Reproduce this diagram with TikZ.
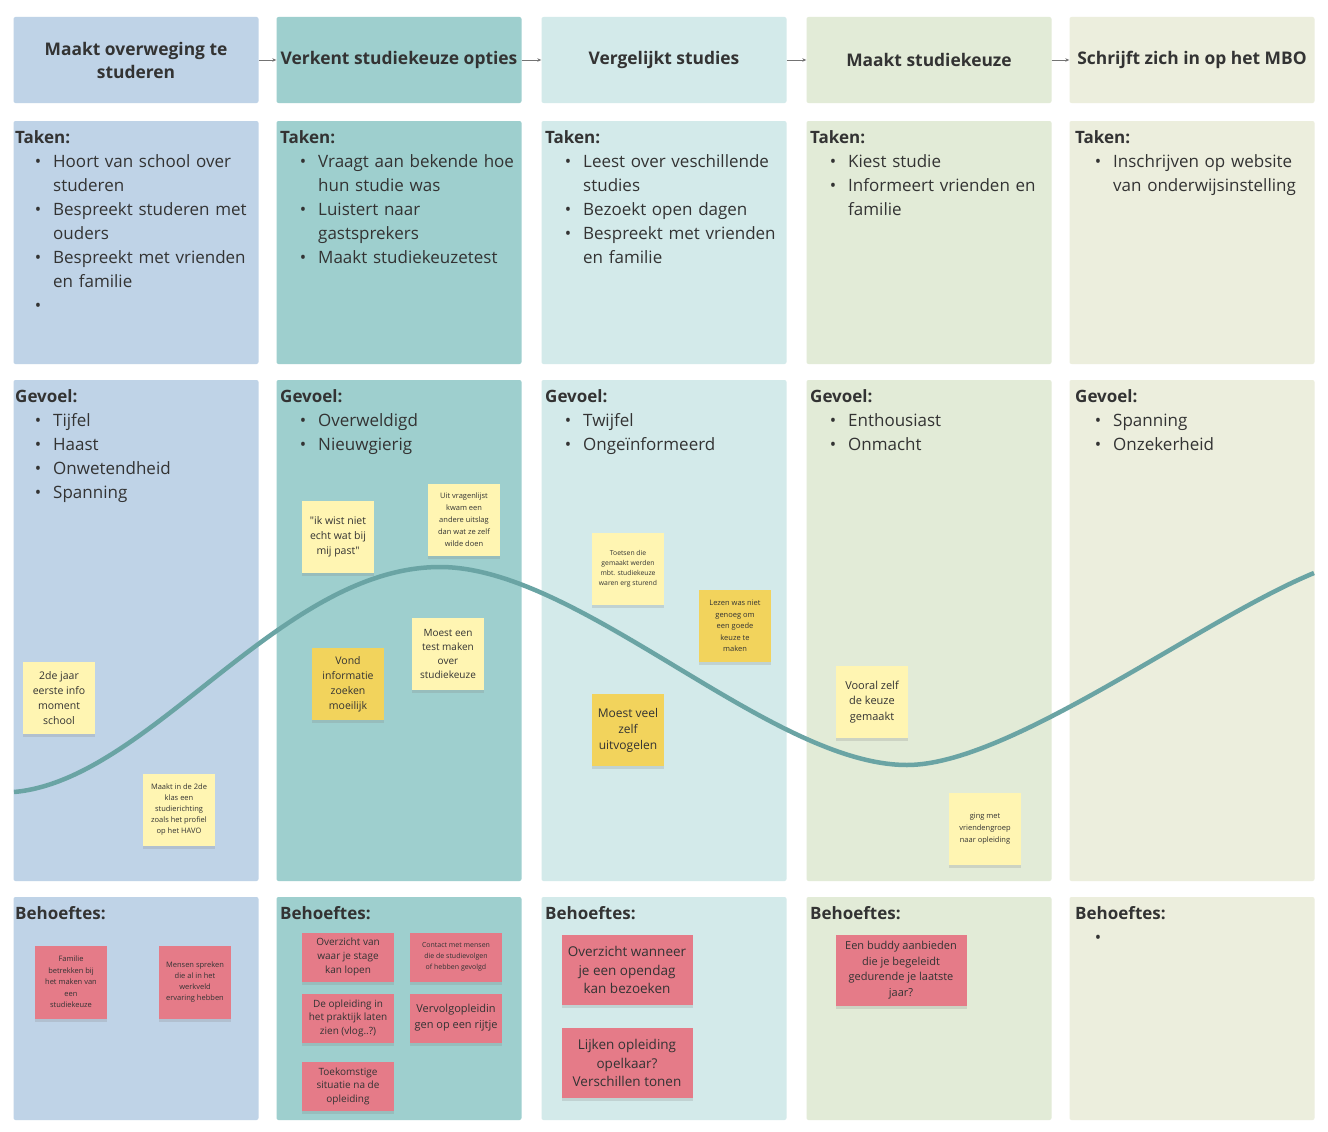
\documentclass[tikz,border=0pt]{standalone}
\usepackage{fontspec}
\setmainfont{Open Sans}
\usepackage{xcolor}
\usetikzlibrary{arrows.meta,shadows}
\definecolor{ink}{HTML}{333333}
\definecolor{laneA}{HTML}{BFD3E7}
\definecolor{laneB}{HTML}{9ECFCE}
\definecolor{laneC}{HTML}{D3EAEA}
\definecolor{laneD}{HTML}{E2EBD7}
\definecolor{laneE}{HTML}{ECEEDD}
\definecolor{moodline}{HTML}{6AA4A4}
\definecolor{paleyellow}{HTML}{FFF5B2}
\definecolor{deepyellow}{HTML}{F2D35C}
\definecolor{rosy}{HTML}{E57B88}
\newcommand{\notefont}[2]{\fontsize{#1}{#2}\selectfont}
\newcommand{\itm}[1]{\par{\leftskip=38pt\noindent\llap{\textbullet\hspace{12pt}}#1\par}}
\begin{document}
\begin{tikzpicture}[x=1pt,y=-1pt,>={Stealth[length=4pt,width=3.5pt]},
 stage/.style={minimum width=245pt,minimum height=86pt,rounded corners=2pt,align=center,inner sep=0pt,text=ink,font=\bfseries\notefont{17.4}{23}},
 lane/.style={minimum width=245pt,rounded corners=2pt,inner sep=0pt},
 list/.style={anchor=north west,text width=250pt,align=left,inner sep=0pt,text=ink,font=\notefont{17}{24}},
 flow/.style={->,draw=black!55,line width=.6pt},
 mood/.style={draw=moodline,line width=4.5pt},
 note/.style={align=center,inner sep=1pt,text=ink,drop shadow={shadow xshift=0pt,shadow yshift=-3pt,opacity=.22}},
 pale/.style={note,fill=paleyellow,minimum width=72pt,minimum height=72pt},
 deep/.style={note,fill=deepyellow,minimum width=72pt,minimum height=72pt},
 need/.style={note,fill=rosy}]
\fill[white] (0,0) rectangle (1328,1132);
\useasboundingbox (0,0) rectangle (1328,1132);
% phases
\node[stage,fill=laneA] (h1) at (136,60) {Maakt overweging te\\studeren};
\node[stage,fill=laneB] (h2) at (399,60) {Verkent studiekeuze opties};
\node[stage,fill=laneC] (h3) at (664,60) {Vergelijkt studies};
\node[stage,fill=laneD] (h4) at (929,60) {Maakt studiekeuze};
\node[stage,fill=laneE] (h5) at (1192,60) {Schrijft zich in op het MBO};
\draw[flow] (h1)--(h2);
\draw[flow] (h2)--(h3);
\draw[flow] (h3)--(h4);
\draw[flow] (h4)--(h5);
% lanes
\node[lane,fill=laneA,minimum height=243pt] (t1) at (136,242.5) {};
\node[lane,fill=laneB,minimum height=243pt] (t2) at (399,242.5) {};
\node[lane,fill=laneC,minimum height=243pt] (t3) at (664,242.5) {};
\node[lane,fill=laneD,minimum height=243pt] (t4) at (929,242.5) {};
\node[lane,fill=laneE,minimum height=243pt] (t5) at (1192,242.5) {};
\node[lane,fill=laneA,minimum height=501pt] (g1) at (136,630.5) {};
\node[lane,fill=laneB,minimum height=501pt] (g2) at (399,630.5) {};
\node[lane,fill=laneC,minimum height=501pt] (g3) at (664,630.5) {};
\node[lane,fill=laneD,minimum height=501pt] (g4) at (929,630.5) {};
\node[lane,fill=laneE,minimum height=501pt] (g5) at (1192,630.5) {};
\node[lane,fill=laneA,minimum height=223pt] (b1) at (136,1008.5) {};
\node[lane,fill=laneB,minimum height=223pt] (b2) at (399,1008.5) {};
\node[lane,fill=laneC,minimum height=223pt] (b3) at (664,1008.5) {};
\node[lane,fill=laneD,minimum height=223pt] (b4) at (929,1008.5) {};
\node[lane,fill=laneE,minimum height=223pt] (b5) at (1192,1008.5) {};
% taken
\node[list] (t1txt) at (15,130) {\textbf{Taken:}\itm{Hoort van school over\\studeren}\itm{Bespreekt studeren met\\ouders}\itm{Bespreekt met vrienden\\en familie}\itm{}};
\node[list] (t2txt) at (280,130) {\textbf{Taken:}\itm{Vraagt aan bekende hoe\\hun studie was}\itm{Luistert naar\\gastsprekers}\itm{Maakt studiekeuzetest}};
\node[list] (t3txt) at (545,130) {\textbf{Taken:}\itm{Leest over veschillende\\studies}\itm{Bezoekt open dagen}\itm{Bespreekt met vrienden\\en familie}};
\node[list] (t4txt) at (810,130) {\textbf{Taken:}\itm{Kiest studie}\itm{Informeert vrienden en\\familie}};
\node[list] (t5txt) at (1075,130) {\textbf{Taken:}\itm{Inschrijven op website\\van onderwijsinstelling}};
% gevoel
\node[list] (g1txt) at (15,389) {\textbf{Gevoel:}\itm{Tijfel}\itm{Haast}\itm{Onwetendheid}\itm{Spanning}};
\node[list] (g2txt) at (280,389) {\textbf{Gevoel:}\itm{Overweldigd}\itm{Nieuwgierig}};
\node[list] (g3txt) at (545,389) {\textbf{Gevoel:}\itm{Twijfel}\itm{Ongeïnformeerd}};
\node[list] (g4txt) at (810,389) {\textbf{Gevoel:}\itm{Enthousiast}\itm{Onmacht}};
\node[list] (g5txt) at (1075,389) {\textbf{Gevoel:}\itm{Spanning}\itm{Onzekerheid}};
% behoeftes
\node[list] (b1txt) at (15,906) {\textbf{Behoeftes:}};
\node[list] (b2txt) at (280,906) {\textbf{Behoeftes:}};
\node[list] (b3txt) at (545,906) {\textbf{Behoeftes:}};
\node[list] (b4txt) at (810,906) {\textbf{Behoeftes:}};
\node[list] (b5txt) at (1075,906) {\textbf{Behoeftes:}\itm{}};
% emotion curve
\draw[mood] (14,792) .. controls (150,780) and (280,567) .. (440,567)
 .. controls (580,567) and (770,765) .. (907,765)
 .. controls (1010,765) and (1200,620) .. (1314,573);
% quotes
\node[pale,font=\notefont{10.5}{15}] (q1) at (59,698) {2de jaar\\eerste info\\moment\\school};
\node[pale,font=\notefont{7.5}{11}] (q2) at (179,810) {Maakt in de 2de\\klas een\\studierichting\\zoals het profiel\\op het HAVO};
\node[pale,font=\notefont{10.5}{15}] (q3) at (338,537) {\textquotedbl ik wist niet\\echt wat bij\\mij past\textquotedbl};
\node[pale,font=\notefont{7.5}{12}] (q4) at (464,520) {Uit vragenlijst\\kwam een\\andere uitslag\\dan wat ze zelf\\wilde doen};
\node[deep,font=\notefont{10.5}{15}] (q5) at (348,684) {Vond\\informatie\\zoeken\\moeilijk};
\node[pale,font=\notefont{10}{14}] (q6) at (448,654) {Moest een\\test maken\\over\\studiekeuze};
\node[pale,font=\notefont{6.8}{10}] (q7) at (628,569) {Toetsen die\\gemaakt werden\\mbt. studiekeuze\\waren erg sturend};
\node[deep,font=\notefont{7.5}{11.5}] (q8) at (735,626) {Lezen was niet\\genoeg om\\een goede\\keuze te\\maken};
\node[deep,font=\notefont{12}{16}] (q9) at (628,730) {Moest veel\\zelf\\uitvogelen};
\node[pale,font=\notefont{11}{15.5}] (q10) at (872,702) {Vooral zelf\\de keuze\\gemaakt};
\node[pale,font=\notefont{7.5}{12}] (q11) at (985,829) {ging met\\vriendengroep\\naar opleiding};
% needs
\node[need,minimum width=72pt,minimum height=73pt,font=\notefont{7.5}{11.5}] (n1) at (71,982) {Familie\\betrekken bij\\het maken van\\een\\studiekeuze};
\node[need,minimum width=72pt,minimum height=73pt,font=\notefont{7.5}{11}] (n2) at (195,982) {Mensen spreken\\die al in het\\werkveld\\ervaring hebben};
\node[need,minimum width=92pt,minimum height=49pt,font=\notefont{10}{14}] (n3) at (348,957) {Overzicht van\\waar je stage\\kan lopen};
\node[need,minimum width=92pt,minimum height=49pt,font=\notefont{7}{11}] (n4) at (456,957) {Contact met mensen\\die de studievolgen\\of hebben gevolgd};
\node[need,minimum width=92pt,minimum height=49pt,font=\notefont{10}{13.5}] (n5) at (348,1018) {De opleiding in\\het praktijk laten\\zien (vlog..?)};
\node[need,minimum width=92pt,minimum height=49pt,font=\notefont{11}{16}] (n6) at (456,1018) {Vervolgopleidin\\gen op een rijtje};
\node[need,minimum width=92pt,minimum height=49pt,font=\notefont{10}{13.5}] (n7) at (348,1086) {Toekomstige\\situatie na de\\opleiding};
\node[need,minimum width=131pt,minimum height=70pt,font=\notefont{13.5}{18.5}] (n8) at (627,970) {Overzicht wanneer\\je een opendag\\kan bezoeken};
\node[need,minimum width=131pt,minimum height=70pt,font=\notefont{13.5}{18.5}] (n9) at (627,1063) {Lijken opleiding\\opelkaar?\\Verschillen tonen};
\node[need,minimum width=131pt,minimum height=71pt,font=\notefont{11}{15.5}] (n10) at (901,970) {Een buddy aanbieden\\die je begeleidt\\gedurende je laatste\\jaar?};
\end{tikzpicture}
\end{document}
